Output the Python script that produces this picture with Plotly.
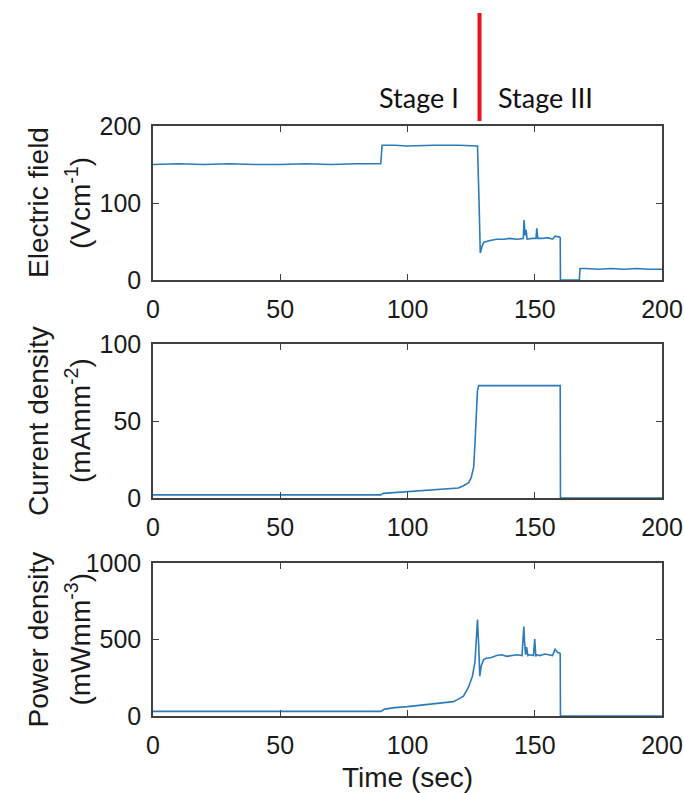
import plotly.graph_objects as go

# ---------------- data ----------------
time_E = [0, 10, 20, 30, 40, 50, 60, 70, 80, 89.5, 90, 95, 100, 110, 120, 127.5, 128.1, 128.3, 128.6,
          129.3, 130, 132, 135, 138, 140, 143, 145.5, 145.8, 146.2, 146.6, 147, 149, 150.5, 150.8, 151.2,
          153, 155, 157, 158, 159.5, 160, 160.1, 167.5, 167.8, 170, 175, 180, 185, 190, 195, 200]
E_field = [150, 151, 150, 151, 150, 150, 151, 150, 151, 151, 175, 175, 174, 175, 175, 174, 104, 60, 35,
           44, 49, 51, 53, 53, 54, 53, 54, 78, 58, 65, 53, 54, 54, 67, 54,
           54, 55, 53, 57, 56, 55, 0, 0, 15, 15, 14, 15, 14, 15, 14, 14]

time_J = [0, 89.5, 90.5, 95, 100, 105, 110, 115, 120, 122, 124, 125, 126, 126.5, 127, 127.5, 128, 160, 160.1, 200]
J_density = [2, 2, 3, 3.5, 4, 4.5, 5, 5.5, 6.5, 8, 10, 13, 20, 35, 55, 70, 73, 73, 0, 0]

time_P = [0, 89.5, 91, 95, 100, 105, 110, 115, 118, 120, 122, 124, 125.5, 126.5, 127, 127.5, 128, 128.4,
          129, 130, 131, 133, 135, 137, 139, 141, 143, 145, 145.7, 146, 146.4, 146.8, 147.3, 148, 149.5,
          150, 150.4, 150.8, 152, 154, 156, 157, 158, 159, 159.8, 160, 160.1, 200]
P_density = [30, 30, 45, 55, 61, 70, 78, 88, 94, 110, 130, 190, 260, 350, 500, 630, 450, 260,
             330, 370, 378, 382, 395, 400, 390, 395, 400, 395, 584, 484, 400, 450, 395, 400, 395,
             503, 390, 400, 395, 405, 400, 395, 436, 415, 412, 405, 0, 0]

stage_boundary = 128.3
stage_labels = ["Stage I", "Stage III"]
y_title_line1 = ["Electric field", "Current density", "Power density"]
y_title_line2 = ["(Vcm<sup>-1</sup>)", "(mAmm<sup>-2</sup>)", "(mWmm<sup>-3</sup>)"]
x_title = "Time (sec)"
x_ticks = [0, 50, 100, 150, 200]
y_ticks = [[0, 100, 200], [0, 50, 100], [0, 500, 1000]]
y_ranges = [[0, 200], [0, 100], [0, 1000]]

# ---------------- figure ----------------
W, H = 684, 793
SL, SR = 153, 662          # plot box left/right in page pixels
ML = SL
MR = W - SR
MT = 126
MB = H - 716
plot_h = H - MT - MB
plot_w = W - ML - MR

def py(screen_y):
    return (H - MB - screen_y) / plot_h

def px(screen_x):
    return (screen_x - ML) / plot_w

domains = [[py(280), py(126)], [py(498), py(344)], [py(716), py(563)]]

line_color = "#2b7bba"
fig = go.Figure()
series = [(time_E, E_field), (time_J, J_density), (time_P, P_density)]
for i, (t, v) in enumerate(series):
    sfx = "" if i == 0 else str(i + 1)
    fig.add_trace(go.Scatter(x=t, y=v, mode="lines", line=dict(color=line_color, width=1.6),
                             xaxis="x" + sfx, yaxis="y" + sfx, showlegend=False))

axis_common = dict(showline=True, linecolor="#404040", linewidth=1.5, mirror="ticks",
                   ticks="inside", ticklen=6, tickwidth=1.3, tickcolor="#404040",
                   showgrid=False, zeroline=False, automargin=False,
                   tickfont=dict(family="Liberation Sans, Arial, sans-serif", size=25, color="#1a1a1a"))

layout = dict(width=W, height=H, margin=dict(l=ML, r=MR, t=MT, b=MB, autoexpand=False),
              paper_bgcolor="white", plot_bgcolor="white")
for i in range(3):
    sfx = "" if i == 0 else str(i + 1)
    layout["xaxis" + sfx] = dict(axis_common, range=[0, 200], tickvals=x_ticks,
                                 anchor="y" + sfx, domain=[0, 1], ticklabelstandoff=6)
    layout["yaxis" + sfx] = dict(axis_common, range=y_ranges[i], tickvals=y_ticks[i],
                                 anchor="x" + sfx, domain=domains[i], ticklabelstandoff=5)
fig.update_layout(**layout)

annotations = []
title_font = dict(family="Liberation Sans, Arial, sans-serif", size=28, color="#1a1a1a")
for i, d in enumerate(domains):
    yc = (d[0] + d[1]) / 2
    annotations.append(dict(text=y_title_line1[i], xref="paper", yref="paper",
                            x=px(38), y=yc, xanchor="center", yanchor="middle", textangle=-90,
                            showarrow=False, font=title_font))
    annotations.append(dict(text=y_title_line2[i], xref="paper", yref="paper",
                            x=px(78), y=yc, xanchor="center", yanchor="middle", textangle=-90,
                            showarrow=False, font=title_font))
annotations.append(dict(text=x_title, xref="paper", yref="paper", x=0.5,
                        y=py(778), xanchor="center", yanchor="middle",
                        showarrow=False, font=title_font))
stage_font = dict(family="Lato, Carlito, sans-serif", size=27, color="#111")
stage_y = py(97)
annotations.append(dict(text=stage_labels[0], xref="x", yref="paper", x=stage_boundary,
                        y=stage_y, xanchor="right", yanchor="middle", xshift=-19,
                        showarrow=False, font=stage_font))
annotations.append(dict(text=stage_labels[1], xref="x", yref="paper", x=stage_boundary,
                        y=stage_y, xanchor="left", yanchor="middle", xshift=16,
                        showarrow=False, font=stage_font))
fig.update_layout(annotations=annotations)

fig.add_shape(type="line", xref="x", yref="paper", x0=stage_boundary, x1=stage_boundary,
              y0=py(121), y1=py(13),
              line=dict(color="#e8141c", width=4))

fig.write_html("out.html", config={"displayModeBar": False},
               post_script="document.body.style.margin='0';document.body.style.overflow='hidden';")
